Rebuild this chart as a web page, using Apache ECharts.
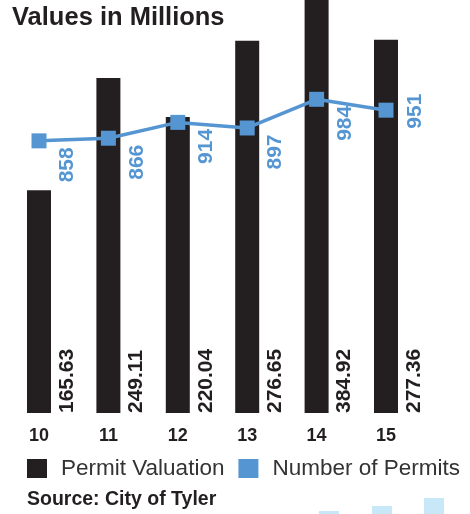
<!DOCTYPE html>
<html lang="en">

<head>
    <meta charset="UTF-8">
    <title>Values in Millions</title>
    <script src="https://cdn.jsdelivr.net/npm/echarts@6/dist/echarts.min.js"></script>
    <style>
        html,
        body {
            margin: 0;
            padding: 0;
            background: #fff;
        }

        #chart {
            width: 470px;
            height: 514px;
        }
    </style>
</head>

<body>
    <div id="chart"></div>
    <script type="text/javascript">
        // data
        var years = ['10', '11', '12', '13', '14', '15'];
        var valuation = [165.63, 249.11, 220.04, 276.65, 384.92, 277.36];
        var permits = [858, 866, 914, 897, 984, 951];

        var dark = '#231f20';
        var blue = '#5596d2';
        var font = 'Liberation Sans, Arial, sans-serif';

        var myChart = echarts.init(document.getElementById('chart'));

        // label offsets are in the rotated text frame: [-down, right]
        // line labels sit below-right of the point, except the last one
        var permitData = permits.map(function(v, i) {
            return {
                value: v,
                label: { offset: i === permits.length - 1 ? [-1, 29.5] : [-24, 28.5] }
            };
        });

        var option = {
            animation: false,
            textStyle: { fontFamily: font },
            graphic: [{
                type: 'text',
                left: 12,
                top: 5,
                style: {
                    text: 'Values in Millions',
                    font: 'bold 25.5px ' + font,
                    fill: dark
                }
            }, {
                type: 'text',
                left: 27,
                top: 490,
                style: {
                    text: 'Source: City of Tyler',
                    font: 'bold 19.5px ' + font,
                    fill: dark
                }
            }, {
                // bits of the next graphic peeking in at the bottom
                type: 'group',
                children: [
                    { type: 'rect', shape: { x: 319, y: 511, width: 20, height: 3 }, style: { fill: '#c8e8f8' } },
                    { type: 'rect', shape: { x: 372, y: 506, width: 20, height: 8 }, style: { fill: '#c8e8f8' } },
                    { type: 'rect', shape: { x: 424, y: 498, width: 20, height: 16 }, style: { fill: '#c8e8f8' } }
                ]
            }],
            legend: {
                left: 22,
                top: 452,
                icon: 'rect',
                itemWidth: 20,
                itemHeight: 19,
                itemGap: 14,
                textStyle: {
                    fontSize: 22.5,
                    color: '#333',
                    fontFamily: font,
                    padding: [0, 0, 0, 9]
                },
                data: ['Permit Valuation', 'Number of Permits']
            },
            grid: {
                left: 4.3,
                right: 49.3,
                top: 0,
                bottom: 101
            },
            xAxis: {
                type: 'category',
                data: years,
                axisLine: { show: false },
                axisTick: { show: false },
                axisLabel: {
                    margin: 14,
                    fontSize: 18,
                    fontWeight: 'bold',
                    color: dark,
                    fontFamily: font
                }
            },
            yAxis: [{
                type: 'value',
                min: 0,
                max: 307,
                show: false,
                splitLine: { show: false }
            }, {
                type: 'value',
                min: 33,
                max: 1285,
                show: false,
                splitLine: { show: false }
            }],
            series: [{
                name: 'Permit Valuation',
                type: 'bar',
                barWidth: 24,
                clip: true,
                itemStyle: { color: dark },
                label: {
                    show: true,
                    position: 'insideBottom',
                    distance: 0,
                    rotate: 90,
                    align: 'left',
                    verticalAlign: 'middle',
                    offset: [0, 28],
                    fontSize: 21,
                    fontWeight: 'bold',
                    color: dark,
                    fontFamily: font,
                    formatter: function(p) {
                        return p.value.toFixed(2);
                    }
                },
                data: valuation
            }, {
                name: 'Number of Permits',
                type: 'line',
                yAxisIndex: 1,
                z: 5,
                symbol: 'rect',
                symbolSize: 15,
                itemStyle: { color: blue },
                lineStyle: { color: blue, width: 3.5 },
                label: {
                    show: true,
                    position: 'inside',
                    rotate: 90,
                    align: 'center',
                    verticalAlign: 'middle',
                    fontSize: 21,
                    fontWeight: 'bold',
                    color: blue,
                    fontFamily: font
                },
                data: permitData
            }]
        };

        myChart.setOption(option);
    </script>
</body>

</html>
